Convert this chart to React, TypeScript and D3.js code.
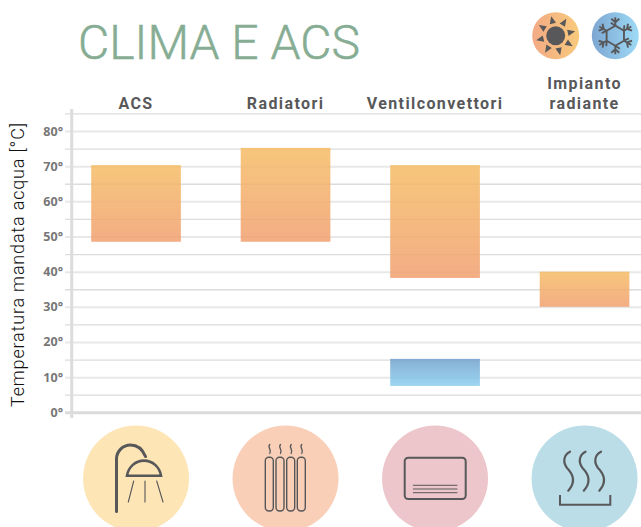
import React, { useRef, useEffect } from 'react';
import * as d3 from 'd3';

const categories = ['ACS', 'Radiatori', 'Ventilconvettori', 'Impianto radiante'];
const heatLow = [48.5, 48.5, 38.2, 30];
const heatHigh = [70.3, 75.2, 70.3, 40];
const coolCategories = ['Ventilconvettori'];
const coolLow = [7.5];
const coolHigh = [15.2];
const majorTicks = [0, 10, 20, 30, 40, 50, 60, 70, 80];
const minorTicks = [5, 15, 25, 35, 45, 55, 65, 75, 85];
const iconColors = ['#fde5b5', '#f9cfb8', '#ecc6ca', '#badde7'];

const WIDTH = 641;
const HEIGHT = 527;
const DARK = '#58585a';
const LABEL_FONT = 'Roboto, sans-serif';

const App = () => {
  const ref = useRef<SVGSVGElement>(null);

  useEffect(() => {
    const svg = d3.select(ref.current);
    svg.selectAll('*').remove();

    const x = d3
      .scaleBand()
      .domain(categories)
      .range([61.3, 659.3])
      .paddingInner(0.4)
      .paddingOuter(0.2);
    const y = d3.scaleLinear().domain([0, 80]).range([412.3, 131]);

    const defs = svg.append('defs');
    const gradient = (id, x2, y2, from, to) => {
      const g = defs
        .append('linearGradient')
        .attr('id', id)
        .attr('x1', 0)
        .attr('y1', 0)
        .attr('x2', x2)
        .attr('y2', y2);
      g.append('stop').attr('offset', 0).attr('stop-color', from);
      g.append('stop').attr('offset', 1).attr('stop-color', to);
    };
    gradient('heat', 0, 1, '#f5bc64', '#f19f6f');
    gradient('cool', 0, 1, '#6fa0cc', '#8ccff0');
    gradient('sun', 1, 0, '#f3aa85', '#f8ca7c');
    gradient('snow', 1, 0, '#7da6d2', '#9ddaf5');

    // title
    svg
      .append('text')
      .attr('x', 78)
      .attr('y', 59)
      .attr('fill', '#86ad93')
      .attr('stroke', '#86ad93')
      .attr('stroke-width', 0.5)
      .attr('font-family', LABEL_FONT)
      .attr('font-weight', 300)
      .attr('font-size', 48)
      .attr('textLength', 282)
      .text('CLIMA E ACS');

    // grid, minor lines under major ones
    const minorAxis = d3
      .axisLeft(y)
      .tickValues(minorTicks)
      .tickSize(-(WIDTH - 65))
      .tickFormat(() => '');
    const minor = svg.append('g').attr('transform', 'translate(65,0)').call(minorAxis);
    minor.select('.domain').remove();
    minor.selectAll('line').attr('stroke', '#dcdcdc').attr('stroke-width', 1.3).attr('x2', WIDTH - 65);

    const majorAxis = d3
      .axisLeft(y)
      .tickValues(majorTicks)
      .tickSize(0)
      .tickPadding(2)
      .tickFormat((d) => `${d}°`);
    const major = svg.append('g').attr('transform', 'translate(65,0)').call(majorAxis);
    major.select('.domain').remove();
    major
      .selectAll('line')
      .attr('x1', 0)
      .attr('x2', WIDTH - 65)
      .attr('stroke', (d) => (d === 0 ? '#dbdbdb' : '#e8e8e8'))
      .attr('stroke-width', (d) => (d === 0 ? 3 : 2));
    major
      .selectAll('text')
      .attr('fill', '#777')
      .attr('font-family', '"Open Sans", sans-serif')
      .attr('font-weight', 700)
      .attr('font-size', 12.5);

    // vertical axis bar
    svg
      .append('line')
      .attr('x1', 71.7)
      .attr('x2', 71.7)
      .attr('y1', 109)
      .attr('y2', 418)
      .attr('stroke', '#dcdcdc')
      .attr('stroke-width', 3);

    // bars
    svg
      .append('g')
      .selectAll('rect')
      .data(categories)
      .enter()
      .append('rect')
      .attr('x', (d) => x(d))
      .attr('width', x.bandwidth())
      .attr('y', (d, i) => y(heatHigh[i]))
      .attr('height', (d, i) => y(heatLow[i]) - y(heatHigh[i]))
      .attr('fill', 'url(#heat)')
      .attr('opacity', 0.85);

    svg
      .append('g')
      .selectAll('rect')
      .data(coolCategories)
      .enter()
      .append('rect')
      .attr('x', (d) => x(d))
      .attr('width', x.bandwidth())
      .attr('y', (d, i) => y(coolHigh[i]))
      .attr('height', (d, i) => y(coolLow[i]) - y(coolHigh[i]))
      .attr('fill', 'url(#cool)')
      .attr('opacity', 0.85);

    // category labels, the last one wraps on two lines
    const labels = svg
      .append('g')
      .attr('fill', DARK)
      .attr('font-family', LABEL_FONT)
      .attr('font-weight', 700)
      .attr('font-size', 16)
      .attr('letter-spacing', 1.4)
      .attr('text-anchor', 'middle');
    categories.forEach((c) => {
      const words = c === 'Impianto radiante' ? c.split(' ') : [c];
      words.forEach((w, i) => {
        labels
          .append('text')
          .attr('x', x(c) + x.bandwidth() / 2)
          .attr('y', 109 - (words.length - 1 - i) * 20)
          .text(w);
      });
    });

    // y title
    svg
      .append('text')
      .attr('transform', 'translate(24,265) rotate(-90)')
      .attr('text-anchor', 'middle')
      .attr('fill', '#111')
      .attr('font-family', LABEL_FONT)
      .attr('font-weight', 300)
      .attr('font-size', 18)
      .attr('textLength', 284)
      .text('Temperatura mandata acqua [°C]');

    // icon circles under the bars
    svg
      .append('g')
      .selectAll('circle')
      .data(categories)
      .enter()
      .append('circle')
      .attr('cx', (d) => x(d) + x.bandwidth() / 2)
      .attr('cy', 478.5)
      .attr('r', 53)
      .attr('fill', (d, i) => iconColors[i]);

    const line = svg.append('g').attr('fill', 'none').attr('stroke', DARK).attr('stroke-linecap', 'round');

    // shower
    line
      .append('path')
      .attr('stroke-width', 3)
      .attr('d', 'M116.5 511.5V459a14 14 0 0 1 14-14c7 0 12 4 15 11.5');
    line
      .append('path')
      .attr('stroke-width', 2.6)
      .attr('d', 'M127 475.7a17.2 17.8 0 0 1 34 0Z');
    line
      .append('path')
      .attr('stroke-width', 1.1)
      .attr('d', 'M133.7 481L128.3 502M145 481V502M156.7 481L163 502');

    // radiator
    [265.3, 276, 286.7, 297.3].forEach((rx) => {
      line
        .append('rect')
        .attr('x', rx)
        .attr('y', 457.3)
        .attr('width', 8)
        .attr('height', 53.7)
        .attr('rx', 3.5)
        .attr('stroke-width', 1.4);
      line
        .append('path')
        .attr('stroke-width', 1.3)
        .attr('d', `M${rx + 4.5} 444.5c-3 3 2.5 5 0 9`);
    });

    // fan coil
    line
      .append('rect')
      .attr('x', 404.7)
      .attr('y', 457.7)
      .attr('width', 61)
      .attr('height', 41.3)
      .attr('rx', 3.5)
      .attr('stroke-width', 2);
    line
      .append('path')
      .attr('stroke-width', 1)
      .attr('d', 'M413.3 485.3H457M413.3 489H457M413.3 492.7H457');

    // radiant floor
    [0, 15.5, 31].forEach((dx) => {
      line
        .append('path')
        .attr('stroke-width', 2.2)
        .attr('d', `M${570 + dx} 451.7C${563 + dx} 455 ${563 + dx} 463 ${567 + dx} 468C${572 + dx} 473 ${577 + dx} 481 ${568.3 + dx} 490.7`);
    });
    line
      .append('path')
      .attr('stroke-width', 2)
      .attr('stroke-linecap', 'butt')
      .attr('d', 'M560 495V504.7H610.3V495');

    // sun badge
    const sun = svg.append('g').attr('transform', 'translate(555.7,35.7)');
    sun.append('circle').attr('r', 23.5).attr('fill', 'url(#sun)');
    sun.append('circle').attr('r', 9.5).attr('fill', DARK);
    d3.range(8).forEach((i) => {
      sun
        .append('path')
        .attr('fill', DARK)
        .attr('transform', `rotate(${-13 + i * 45})`)
        .attr('d', 'M-3.2 -12.5L3.2 -12.5L0 -20Z');
    });

    // snow badge
    const snow = svg.append('g').attr('transform', 'translate(615.3,35.7)');
    snow.append('circle').attr('r', 23.5).attr('fill', 'url(#snow)');
    d3.range(6).forEach((i) => {
      snow
        .append('path')
        .attr('fill', 'none')
        .attr('stroke', DARK)
        .attr('stroke-width', 1.9)
        .attr('transform', `rotate(${i * 60})`)
        .attr(
          'd',
          'M0 -10V-18.5M0 -13.5L-4 -17M0 -13.5L4 -17M0 -10L-8.7 -5M0 -10L-4.5 -13'
        );
    });
  }, []);

  return (
    <svg
      ref={ref}
      width={WIDTH}
      height={HEIGHT}
      style={{ position: 'absolute', left: 0, top: 0, background: '#fff' }}
    ></svg>
  );
};

export default App;
